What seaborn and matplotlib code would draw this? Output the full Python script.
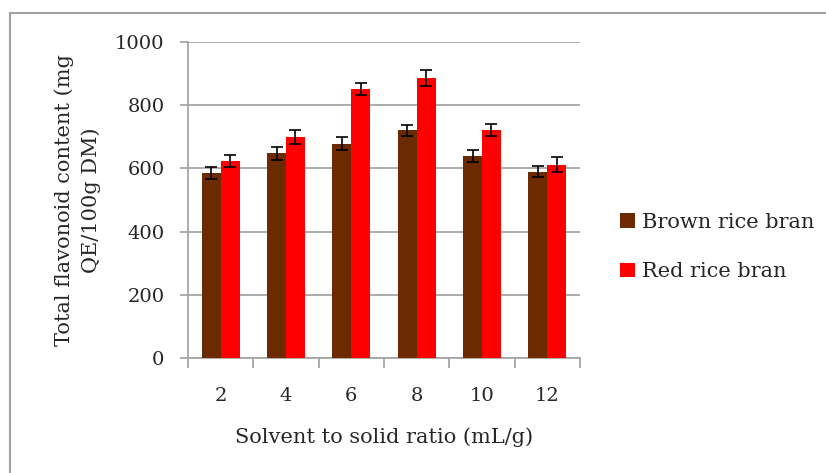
import matplotlib
matplotlib.use("Agg")
import matplotlib.pyplot as plt
from matplotlib.patches import Rectangle
from matplotlib.ticker import FixedLocator
import numpy as np
import pandas as pd
import seaborn as sns

ratios = ["2", "4", "6", "8", "10", "12"]
brown = [586, 648, 678, 720, 639, 590]
red = [623, 699, 851, 886, 722, 612]
brown_err = [19, 21, 20, 17, 20, 18]
red_err = [20, 23, 20, 24, 20, 23]
series = ["Brown rice bran", "Red rice bran"]
colors = ["#6B2A00", "#FF0000"]

df = pd.DataFrame({
    "ratio": ratios * 2,
    "value": brown + red,
    "err": brown_err + red_err,
    "series": [series[0]] * len(ratios) + [series[1]] * len(ratios),
})

sns.set_theme(style="white")
plt.rcParams["font.family"] = ["DejaVu Serif", "Liberation Serif"]
FS_TICK = 14
FS = 15

fig = plt.figure(figsize=(8.26, 4.73), dpi=100)
ax = fig.add_axes([188/826, 1-358/473, (580-188)/826, (358-42)/473])

sns.barplot(data=df, x="ratio", y="value", hue="series", order=ratios,
            hue_order=series, palette=colors, width=0.58, gap=0,
            errorbar=None, ax=ax, legend=True, saturation=1, zorder=3,
            linewidth=0)

# error bars at bar centres
for cont, s in zip(ax.containers, series):
    sub = df[df["series"] == s].set_index("ratio").loc[ratios]
    xs = [p.get_x() + p.get_width()/2 for p in cont.patches]
    ax.errorbar(xs, sub["value"].values, yerr=sub["err"].values, fmt="none",
                ecolor="black", elinewidth=1.2, capsize=4.5, capthick=1.2, zorder=4)

ax.set_ylim(0, 1000)
ax.set_xlim(-0.5, len(ratios) - 0.5)
ax.set_yticks([0, 200, 400, 600, 800, 1000])
ax.yaxis.grid(True, color="#A6A6A6", linewidth=1.3, zorder=0)
ax.set_axisbelow(True)
for sp in ["top", "right"]:
    ax.spines[sp].set_visible(False)
for sp in ["left", "bottom"]:
    ax.spines[sp].set_color("#A6A6A6")
    ax.spines[sp].set_linewidth(1.3)

ax.tick_params(axis="y", which="major", length=6, width=1.3, color="#A6A6A6",
               pad=11, labelsize=FS_TICK, left=True)
ax.xaxis.set_minor_locator(FixedLocator(np.arange(-0.5, len(ratios), 1.0)))
ax.tick_params(axis="x", which="major", length=0, pad=21, labelsize=FS_TICK)
ax.tick_params(axis="x", which="minor", length=7, width=1.3, color="#A6A6A6",
               bottom=True)

ax.set_xlabel("Solvent to solid ratio (mL/g)", fontsize=FS, labelpad=16)
ax.set_ylabel("")
fig.text(78/826, 1-200/473, "Total flavonoid content (mg\nQE/100g DM)",
         rotation=90, ha="center", va="center", fontsize=FS, linespacing=1.45)

h, l = ax.get_legend_handles_labels()
ax.legend(h, l, loc="center left", bbox_to_anchor=(620/826, 1-247/473),
          bbox_transform=fig.transFigure, frameon=False, fontsize=FS,
          handlelength=0.7, handleheight=0.7, handletextpad=0.35,
          labelspacing=1.45, borderpad=0, borderaxespad=0)

fig.patches.append(Rectangle((10/826, -0.1), 1.2, 1.1 - 13/473,
                             transform=fig.transFigure, fill=False,
                             edgecolor="#A0A0A0", linewidth=1.5))

fig.savefig("out.png", dpi=100)
